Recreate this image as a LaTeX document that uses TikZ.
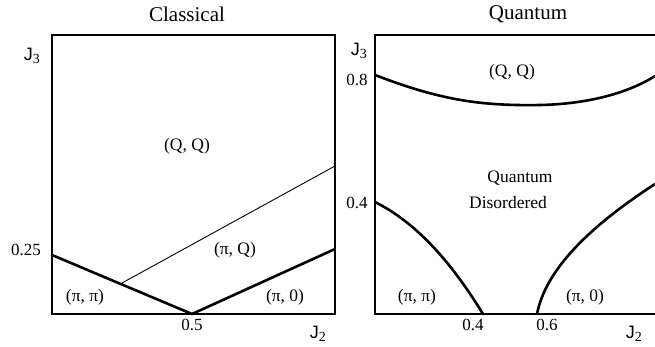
\documentclass[tikz,border=0pt]{standalone}
\usepackage{fontspec}
\setmainfont{Liberation Serif}
\newfontfamily\jfont{Liberation Sans}
\begin{document}
\begin{tikzpicture}[x=1pt,y=-1pt,
  frame/.style={line width=2.6pt, line cap=butt},
  phase/.style={line width=2.6pt, line join=round},
  thinline/.style={line width=0.9pt},
  title/.style={font=\fontsize{21}{24}\selectfont, inner sep=0pt},
  lab/.style={font=\fontsize{17.5}{20}\selectfont, inner sep=0pt},
  tick/.style={font=\fontsize{17}{19}\selectfont, inner sep=0pt},
  axis/.style={font=\fontsize{18}{20}\selectfont, inner sep=0pt}]
\useasboundingbox (0,0) rectangle (655,346);
% ---------- Classical ----------
\node[title] (tc) at (187,14) {Classical};
\coordinate (ctl) at (52,35);
\coordinate (ctr) at (335,35);
\coordinate (cbl) at (52,314);
\coordinate (cbr) at (335,314);
\draw[frame] (cbl) -- (ctl) -- (ctr) -- (cbr) -- cycle;
\coordinate (ca) at (52,255);
\coordinate (cv) at (192,314);
\coordinate (cb) at (335,249);
\coordinate (cm) at (122,283);
\coordinate (cc) at (335,166);
\draw[phase] (ca) -- (cv) -- (cb);
\draw[thinline] (cm) -- (cc);
\node[axis] (cj3) at (32,56) {{\jfont J}\textsubscript{\fontsize{14}{15}\selectfont 3}};
\node[tick] (c025) at (26,250) {0.25};
\node[tick] (c05) at (192,325) {0.5};
\node[axis] (cj2) at (318,334) {{\jfont J}\textsubscript{\fontsize{14}{15}\selectfont 2}};
\node[lab] (cqq) at (187,146) {(Q, Q)};
\node[lab] (cpq) at (235,250) {(π, Q)};
\node[lab] (cpp) at (85,297) {(π, π)};
\node[lab] (cp0) at (285,297) {(π, 0)};
% ---------- Quantum ----------
\node[title] (tq) at (528,14) {Quantum};
\coordinate (qtl) at (375,35);
\coordinate (qtr) at (656,35);
\coordinate (qbl) at (375,314);
\coordinate (qbr) at (656,314);
\draw[frame] (qtr) -- (qtl) -- (qbl) -- (qbr);
% upper boundary
\coordinate (u0) at (375,75);
\coordinate (u3) at (655,76);
\draw[phase] (u0) .. controls (440,100) and (480,106) .. (540,105)
   .. controls (590,104) and (630,92) .. (u3);
% left boundary
\coordinate (l0) at (375,202);
\coordinate (l1) at (483,314);
\draw[phase] (l0) .. controls (415,222) and (450,260) .. (l1);
% right boundary
\coordinate (r0) at (537,314);
\coordinate (r1) at (655,184);
\draw[phase] (r0) .. controls (546,268) and (592,225) .. (r1);
\node[axis] (qj3) at (359,51) {{\jfont J}\textsubscript{\fontsize{14}{15}\selectfont 3}};
\node[tick] (q08) at (357,80) {0.8};
\node[tick] (q04y) at (357,203) {0.4};
\node[tick] (q04x) at (473,325) {0.4};
\node[tick] (q06) at (547,325) {0.6};
\node[axis] (qj2) at (634,334) {{\jfont J}\textsubscript{\fontsize{14}{15}\selectfont 2}};
\node[lab] (qqq) at (512,72) {(Q, Q)};
\node[lab] (qqd1) at (520,178) {Quantum};
\node[lab] (qqd2) at (508,203) {Disordered};
\node[lab] (qpp) at (417,297) {(π, π)};
\node[lab] (qp0) at (585,297) {(π, 0)};
\end{tikzpicture}
\end{document}
